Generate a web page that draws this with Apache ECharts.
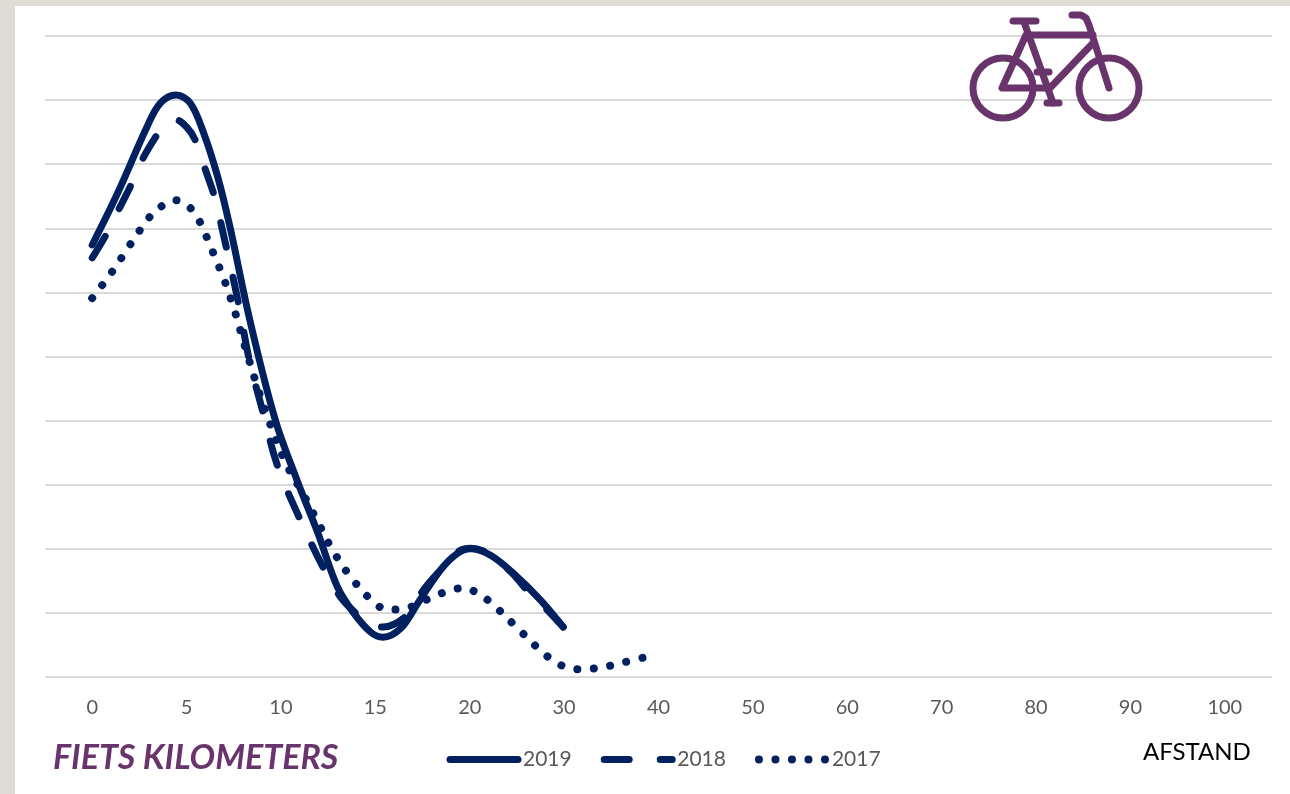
<!DOCTYPE html>
<html>
<head>
<meta charset="utf-8">
<title>Fiets kilometers</title>
<script src="https://cdn.jsdelivr.net/npm/echarts@6/dist/echarts.min.js"></script>
<style>
    html, body { margin: 0; padding: 0; background: #E0DBD5; }
    #sheet { position: absolute; left: 15px; top: 6px; width: 1275px; height: 788px; background: #fff; }
    #chart-1 { position: absolute; left: 0; top: 0; width: 1290px; height: 794px; }
</style>
</head>
<body>
<div id="sheet"></div>
<div id="chart-1"></div>
<script>
/************************        Fiets kilometers        **************************/

// tick labels of the distance axis (not evenly spaced in km, so the curves use tick positions)
var afstand = ['0', '5', '10', '15', '20', '30', '40', '50', '60', '70', '80', '90', '100'];

// curve points: position along the axis (0 = first tick), value in %
var pos2019 = [0, .27, .58, .72, .89, 1.04, 1.18, 1.33, 1.46, 1.67, 1.94, 2.17, 2.39, 2.60, 2.77, 2.95, 3.08, 3.27, 3.45, 3.69, 3.87, 4.01, 4.22, 4.46, 4.75, 4.99];
var val2019 = [67.4, 75.5, 85.8, 89.5, 90.8, 89.5, 84.9, 78.0, 70.2, 55.7, 40.1, 30.7, 22.5, 14.0, 10.0, 7.0, 6.2, 7.6, 11.5, 16.7, 19.3, 20.0, 19.0, 16.2, 12.0, 7.8];

var pos2018 = [0, .14, .28, .40, .53, .67, .77, .89, 1.00, 1.09, 1.20, 1.29, 1.42, 1.55, 1.67, 1.81, 1.96, 2.19, 2.45, 2.63, 2.81, 2.95, 3.08, 3.34, 3.51, 3.69, 3.87, 4.01, 4.19, 4.45, 4.62, 4.80, 4.99];
var val2018 = [65.4, 68.8, 72.9, 76.4, 80.7, 84.2, 86.3, 86.9, 85.8, 83.8, 79.1, 75.2, 67.1, 58.3, 49.1, 41.3, 33.1, 25.0, 17.0, 12.5, 9.7, 8.1, 7.8, 9.7, 13.6, 16.7, 19.5, 20.1, 19.3, 16.2, 13.3, 10.8, 7.8];

var pos2017 = [0, .21, .40, .60, .72, .88, 1.03, 1.13, 1.27, 1.40, 1.51, 1.63, 1.76, 1.89, 2.05, 2.24, 2.39, 2.55, 2.75, 2.98, 3.13, 3.30, 3.46, 3.61, 3.77, 3.94, 4.10, 4.24, 4.48, 4.73, 4.87, 5.01, 5.18, 5.36, 5.53, 5.69, 5.86];
var val2017 = [59.1, 63.2, 67.4, 71.6, 73.3, 74.4, 73.3, 71.3, 66.6, 61.9, 57.1, 51.0, 44.8, 39.3, 33.4, 28.4, 24.2, 19.7, 15.4, 11.7, 10.5, 10.6, 11.5, 12.5, 13.4, 13.9, 12.9, 11.4, 8.0, 4.4, 2.7, 1.6, 1.2, 1.4, 1.9, 2.5, 3.1];

var navy = '#00205F';
var purple = '#69336B';

function pairs(pos, val) {
    return pos.map(function (p, i) { return [p, val[i]]; });
}

function curve(name, pos, val, width, dash) {
    return {
        name: name,
        type: 'line',
        xAxisIndex: 1,
        smooth: 0.35,
        symbol: 'none',
        lineStyle: { color: navy, width: width, type: dash, cap: 'round', join: 'round' },
        itemStyle: { color: navy },
        data: pairs(pos, val)
    };
}

// legend keys show the line only
function legendItem(name, width) {
    return { name: name, itemStyle: { opacity: 0 }, lineStyle: { width: width, cap: 'round' } };
}

// bicycle icon, drawn in page pixels
function stroke(points) {
    return { type: 'polyline', z: 100, shape: { points: points }, style: { stroke: purple, lineWidth: 7, lineCap: 'round', lineJoin: 'round', fill: null } };
}
function wheel(cx, cy) {
    return { type: 'circle', z: 100, shape: { cx: cx, cy: cy, r: 30 }, style: { stroke: purple, lineWidth: 7, fill: null } };
}
var bike = [
    wheel(1003, 88),
    wheel(1109, 88),
    stroke([[1013, 21], [1036, 21]]),
    stroke([[1024, 22], [1053, 103]]),
    stroke([[1047, 103], [1059, 103]]),
    stroke([[1027, 35], [1093, 35]]),
    stroke([[1026, 35], [1002, 88], [1050, 88], [1093, 43]]),
    stroke([[1037, 72], [1049, 72]]),
    stroke([[1109, 88], [1089, 25], [1086, 18], [1081, 15], [1072, 15]])
];

var dom = document.getElementById("chart-1");
var myChart = echarts.init(dom);
var option = {
    animation: false,
    textStyle: { fontFamily: 'Lato' },
    grid: { left: 45, right: 18, top: 36, bottom: 117 },
    title: [
        {
            text: 'FIETS KILOMETERS',
            left: 53,
            top: 741,
            padding: 0,
            textStyle: { color: purple, fontFamily: 'Lato', fontSize: 34, fontWeight: 'bold', fontStyle: 'italic' }
        },
        {
            text: 'AFSTAND',
            left: 1143,
            top: 740,
            padding: 0,
            textStyle: { color: '#000', fontFamily: 'Lato', fontSize: 24, fontWeight: 'normal' }
        }
    ],
    legend: {
        left: 446.5,
        top: 749,
        padding: 0,
        itemWidth: 68,
        itemHeight: 24,
        itemGap: 29,
        data: [legendItem('2019', 7), legendItem('2018', 7), legendItem('2017', 8)],
        textStyle: { color: '#595959', fontFamily: 'Lato', fontSize: 21 }
    },
    xAxis: [
        {
            type: 'category',
            data: afstand,
            axisLine: { show: false },
            axisTick: { show: false },
            axisLabel: { color: '#595959', fontFamily: 'Lato', fontSize: 20, margin: 21 }
        },
        { type: 'value', min: -0.5, max: 12.5, show: false, splitLine: { show: false } }
    ],
    yAxis: {
        type: 'value',
        min: 0,
        max: 100,
        interval: 10,
        axisLine: { show: false },
        axisTick: { show: false },
        axisLabel: { show: false },
        splitLine: { lineStyle: { color: '#D9D9D9', width: 2 } }
    },
    series: [
        curve('2019', pos2019, val2019, 7, 'solid'),
        curve('2018', pos2018, val2018, 7, [25, 31]),
        curve('2017', pos2017, val2017, 8, [0.01, 16.5])
    ],
    graphic: bike
};

myChart.setOption(option);
</script>
</body>
</html>
